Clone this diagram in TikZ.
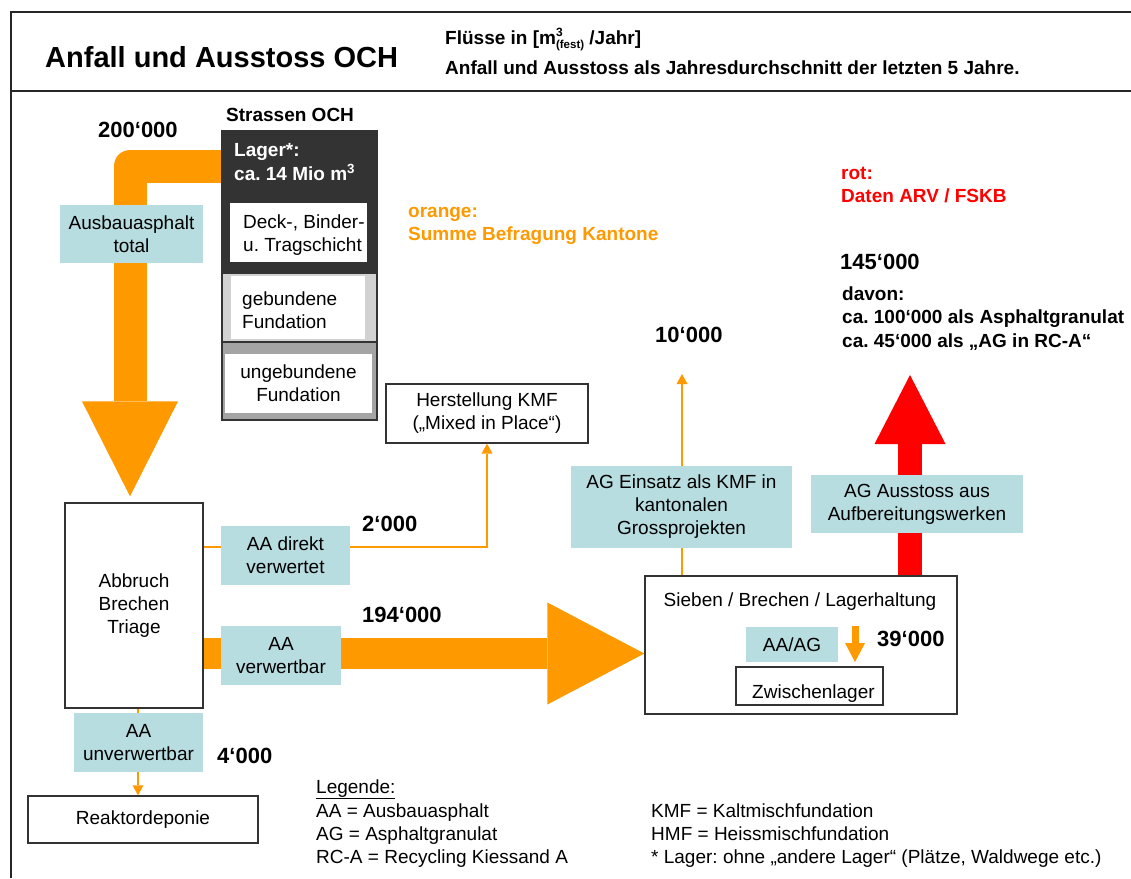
\documentclass[tikz,border=0pt]{standalone}
\usepackage{fontspec}
\setmainfont{Liberation Sans}
\usetikzlibrary{arrows.meta}

\definecolor{flow}{HTML}{FF9900}
\definecolor{rotflow}{HTML}{FF0000}
\definecolor{tagblue}{HTML}{B7DDE0}
\definecolor{lagergrey}{HTML}{333333}
\definecolor{dotlight}{HTML}{D2D2D2}
\definecolor{dotdark}{HTML}{A4A4A4}

\tikzset{
	bodytext/.style = {font = \fontsize{19}{23}\selectfont\frenchspacing},
	boldtext/.style = {font = \fontsize{19}{23}\selectfont\frenchspacing\bfseries},
	numtext/.style = {font = \fontsize{22}{26}\selectfont\bfseries, anchor = base west},
	framebox/.style = {draw = black!80, line width = 1.3pt, fill = white},
	tagbox/.style = {fill = tagblue, align = center},
	thinflow/.style = {flow, line width = 2.5pt, -{Triangle[width = 11pt, length = 10pt, line width = 0pt]}},
}

\begin{document}
\begin{tikzpicture}[x = 1pt, y = -1pt, every node/.style = {bodytext, inner sep = 0pt}]

\useasboundingbox (0, 0) rectangle (1131, 878);

% Frame

\draw [line width = 1.8pt, black!85] (1131, 12) -- (11, 12) -- (11, 878);
\draw [line width = 2.2pt, black!85] (11, 91) -- (1131, 91);

% Header

\node [font = \fontsize{29}{34}\selectfont\bfseries, anchor = base west] (title) at (45, 67) {Anfall und Ausstoss OCH};
\node [boldtext, anchor = base west] (units) at (445, 44)
	{Flüsse in [m\rlap{\raisebox{8pt}{\fontsize{12}{12}\selectfont 3}}\raisebox{-4pt}{\fontsize{11.5}{12}\selectfont (fest)} /Jahr]};
\node [boldtext, anchor = base west] (average) at (445, 74) {Anfall und Ausstoss als Jahresdurchschnitt der letzten 5 Jahre.};

% Strassen OCH

\node [boldtext, anchor = base west] (strassen) at (226, 121) {Strassen OCH};
\node [framebox, fill = lagergrey, minimum width = 155, minimum height = 142] (lager) at (299.5, 202) {};
\node [boldtext, text = white, anchor = base west] (lager1) at (234, 156) {Lager*:};
\node [boldtext, text = white, anchor = base west] (lager2) at (234, 180) {ca. 14 Mio m\textsuperscript{3}};
\node [fill = white, minimum width = 137, minimum height = 59] (deck) at (298.5, 232.5) {};
\node [anchor = base west] (deck1) at (243, 228) {Deck-, Binder-};
\node [anchor = base west] (deck2) at (243, 251) {u. Tragschicht};

\node [framebox, fill = dotlight, minimum width = 155, minimum height = 69] (geb) at (299.5, 307.5) {};
\node [fill = white, minimum width = 134, minimum height = 63] (gebin) at (298, 307.5) {};
\node [anchor = base west] (geb1) at (242, 305) {gebundene};
\node [anchor = base west] (geb2) at (242, 328) {Fundation};

\node [framebox, fill = dotdark, minimum width = 155, minimum height = 78] (ungeb) at (299.5, 381) {};
\node [fill = white, minimum width = 147, minimum height = 59, align = center] (ungebin) at (298.5, 383.5) {ungebundene\\Fundation};

% Boxes

\node [framebox, minimum width = 138, minimum height = 205, align = center] (abbruch) at (134, 605.5) {Abbruch\\Brechen\\Triage};
\node [framebox, minimum width = 230, minimum height = 47] (reaktor) at (143, 819.5) {Reaktordeponie};
\node [framebox, minimum width = 202, minimum height = 59, align = center] (kmf) at (487, 413.5) {Herstellung KMF\\(„Mixed in Place“)};
\node [framebox, minimum width = 312, minimum height = 138] (sieben) at (801, 645) {};
\node [anchor = base] (siebentxt) at (800, 606) {Sieben / Brechen / Lagerhaltung};
\node [framebox, minimum width = 147, minimum height = 38] (zwischen) at (809.5, 686) {};
\node [anchor = base west] (zwischentxt) at (752, 698) {Zwischenlager};

% Flows

\draw [flow, line width = 33pt, line join = round, -{Triangle[width = 96pt, length = 95pt, line width = 0pt]}]
	([yshift = 36pt]lager.west) -| ([xshift = -4pt, yshift = 6pt]abbruch.north);

\coordinate (bandstart) at ([yshift = -48pt]abbruch.east);
\draw [flow, line width = 31pt, -{Triangle[width = 102pt, length = 97pt, line width = 0pt]}]
	(bandstart) -- (bandstart -| sieben.west);

\coordinate (rotend) at (910, 375);
\draw [rotflow, line width = 24pt, -{Triangle[width = 71pt, length = 69pt, line width = 0pt]}]
	(rotend |- sieben.north) -- (rotend);

\coordinate (lagerin) at (855, 662);
\draw [flow, line width = 7pt, -{Triangle[width = 20pt, length = 19pt, line width = 0pt]}]
	([yshift = 36pt]lagerin) -- (lagerin);

\draw [thinflow] ([yshift = 58.5pt]abbruch.east) -| (kmf.south);
\draw [thinflow] ([xshift = 4pt]abbruch.south) -- ([xshift = -5pt]reaktor.north);

\coordinate (kmfend) at (682, 374);
\draw [thinflow] (kmfend |- sieben.north) -- (kmfend);

% Labels

\node [tagbox, minimum width = 143, minimum height = 58] (ausbau) at (131.5, 234) {Ausbauasphalt\\total};
\node [tagbox, minimum width = 129, minimum height = 59] (direkt) at (285.5, 555.5) {AA direkt\\verwertet};
\node [tagbox, minimum width = 120, minimum height = 59] (verwertbar) at (281, 655.5) {AA\\verwertbar};
\node [tagbox, minimum width = 129, minimum height = 59] (unverw) at (138.5, 742.5) {AA\\unverwertbar};
\node [tagbox, minimum width = 221, minimum height = 82] (einsatz) at (681.5, 507) {AG Einsatz als KMF in\\kantonalen\\Grossprojekten};
\node [tagbox, minimum width = 212, minimum height = 58] (ausstoss) at (917, 504) {AG Ausstoss aus\\Aufbereitungswerken};
\node [tagbox, minimum width = 92, minimum height = 35] (aaag) at (792, 644.5) {AA/AG};

% Numbers

\node [numtext] (n200) at (98, 137) {200‘000};
\node [numtext] (n2) at (362, 531) {2‘000};
\node [numtext] (n194) at (362, 622) {194‘000};
\node [numtext] (n4) at (217, 763) {4‘000};
\node [numtext] (n10) at (655, 342) {10‘000};
\node [numtext] (n145) at (840, 269) {145‘000};
\node [numtext] (n39) at (877, 646) {39‘000};

% Colour keys

\node [boldtext, text = flow, anchor = base west] (orange1) at (408, 217) {orange:};
\node [boldtext, text = flow, anchor = base west] (orange2) at (408, 240) {Summe Befragung Kantone};
\node [boldtext, text = rotflow, anchor = base west] (rot1) at (841, 179) {rot:};
\node [boldtext, text = rotflow, anchor = base west] (rot2) at (841, 202) {Daten ARV / FSKB};

\node [boldtext, anchor = base west] (davon1) at (842, 300) {davon:};
\node [boldtext, anchor = base west] (davon2) at (842, 323) {ca. 100‘000 als Asphaltgranulat};
\node [boldtext, anchor = base west] (davon3) at (842, 347) {ca. 45‘000 als „AG in RC-A“};

% Legend

\node [anchor = base west] (legende) at (316, 793) {\underline{Legende:}};
\node [anchor = base west] (leg1) at (316, 817) {AA = Ausbauasphalt};
\node [anchor = base west] (leg2) at (316, 840) {AG = Asphaltgranulat};
\node [anchor = base west] (leg3) at (316, 863) {RC-A = Recycling Kiessand A};
\node [anchor = base west] (leg4) at (651, 817) {KMF = Kaltmischfundation};
\node [anchor = base west] (leg5) at (651, 840) {HMF = Heissmischfundation};
\node [anchor = base west] (leg6) at (651, 863) {* Lager: ohne „andere Lager“ (Plätze, Waldwege etc.)};

\end{tikzpicture}
\end{document}
